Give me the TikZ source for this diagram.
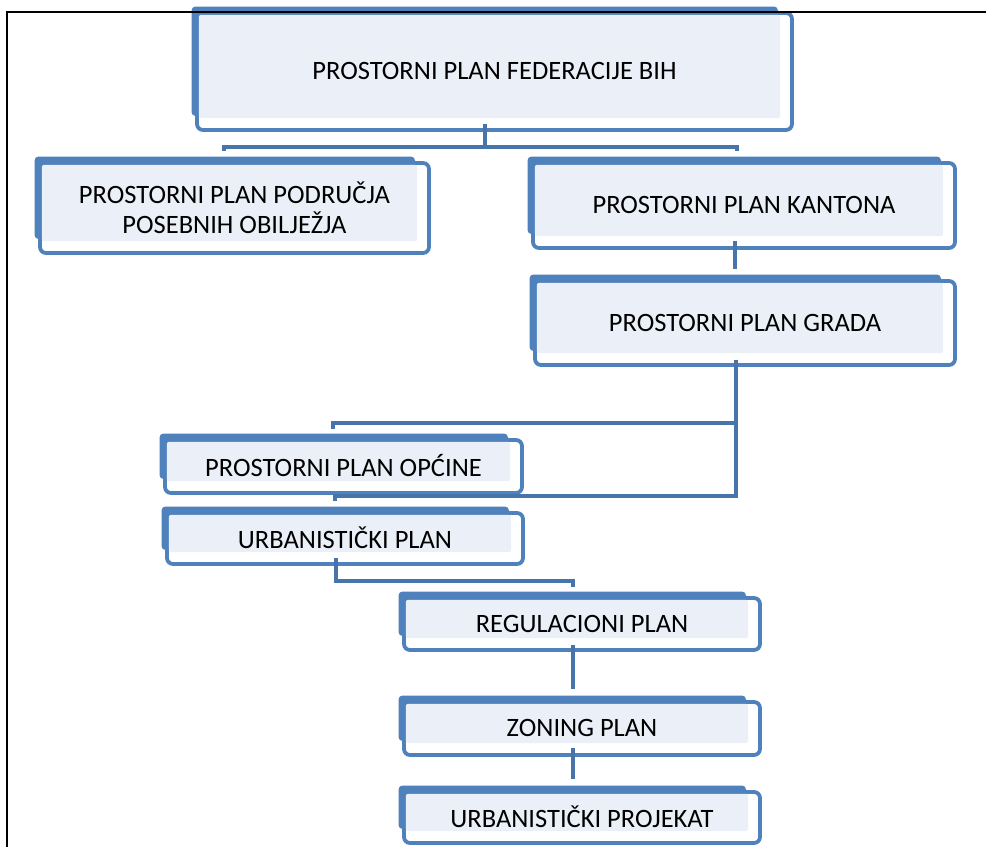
\documentclass[tikz,border=0pt]{standalone}
\usepackage{fontspec}
\setmainfont{Carlito}
\usetikzlibrary{calc}
\definecolor{boxblue}{HTML}{4F81BD}
\definecolor{connblue}{HTML}{4874AC}
\definecolor{boxfill}{HTML}{EBF0F8}
\tikzset{
  conn/.style={draw=connblue, line width=3.8pt},
  boxtext/.style={inner sep=0pt, align=center, font=\fontsize{26.5}{30}\selectfont, text=black},
}
\newcommand{\planbox}[6]{%
  \fill[boxblue, rounded corners=4pt] (#2-5.5,#3-6.5) rectangle (#4-14,#5-14);
  \draw[boxblue, line width=3.8pt, fill=white, rounded corners=6pt] (#2,#3) rectangle (#4,#5);
  \fill[boxfill, rounded corners=2pt] (#2+1.9,#3+1.9) rectangle (#4-12,#5-12);
  \node[boxtext, minimum width={(#4-#2)*1pt}, minimum height={(#5-#3)*1pt}] (#1) at ({(#2+#4)/2},{(#3+#5)/2-0.5}) {#6};
}
\begin{document}
\begin{tikzpicture}[x=1pt,y=-1pt]
\useasboundingbox (0,0) rectangle (986,847);
\fill[white] (0,0) rectangle (986,847);
% boxes
\planbox{fed}{197}{13}{792}{130}{PROSTORNI PLAN FEDERACIJE BIH}
\planbox{pod}{40}{163}{429}{253}{PROSTORNI PLAN PODRUČJA\\POSEBNIH OBILJEŽJA}
\planbox{kan}{533}{163}{955}{248}{PROSTORNI PLAN KANTONA}
\planbox{gra}{535}{281}{955}{365}{PROSTORNI PLAN GRADA}
\planbox{opc}{165}{440}{522}{493}{PROSTORNI PLAN OPĆINE}
\planbox{urbp}{167}{513}{523}{564}{URBANISTIČKI PLAN}
\planbox{reg}{404}{598}{760}{650}{REGULACIONI PLAN}
\planbox{zon}{404}{702}{760}{755}{ZONING PLAN}
\planbox{pro}{404}{792}{760}{843}{URBANISTIČKI PROJEKAT}
% connectors
\draw[conn] ([xshift=-9.5pt,yshift=6pt]fed.south) -- ++(0,23) -| ([xshift=-10.5pt,yshift=11pt]pod.north);
\draw[conn] ([xshift=-9.5pt,yshift=6pt]fed.south) -- ++(0,23) -| ([xshift=-7pt,yshift=11pt]kan.north);
\draw[conn] ([xshift=-9pt,yshift=7pt]kan.south) -- ([xshift=-10pt,yshift=11pt]gra.north);
\draw[conn] ([xshift=-9pt,yshift=5pt]gra.south) |- ([xshift=-10.5pt,yshift=16pt]opc.north) -- ++(0,6);
\draw[conn] ([xshift=-9pt,yshift=5pt]gra.south) |- ([xshift=-10pt,yshift=16pt]urbp.north) -- ++(0,5);
\draw[conn] ([xshift=-9pt,yshift=6pt]urbp.south) |- ([xshift=-9pt,yshift=16pt]reg.north) -- ++(0,6);
\draw[conn] ([xshift=-9pt,yshift=5pt]reg.south) -- ([xshift=-9pt,yshift=12pt]zon.north);
\draw[conn] ([xshift=-9pt,yshift=7pt]zon.south) -- ([xshift=-9pt,yshift=12pt]pro.north);
% frame
\draw[black, line width=1.5pt] (7,847) -- (7,12) -- (986,12);
\end{tikzpicture}
\end{document}
